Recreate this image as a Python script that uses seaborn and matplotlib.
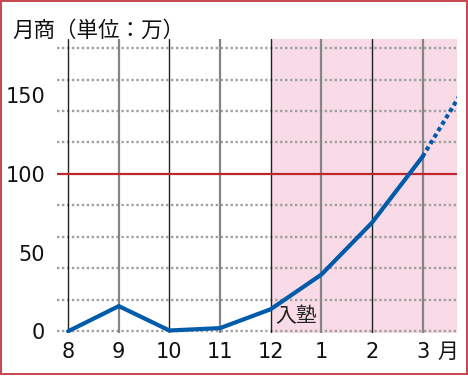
import matplotlib
matplotlib.use("Agg")
import matplotlib.pyplot as plt
import seaborn as sns
import pandas as pd
from matplotlib.patches import Rectangle

# ---- data ----
months = ["8", "9", "10", "11", "12", "1", "2", "3"]
sales = [0, 16, 0.5, 2, 14, 36, 69, 111]
forecast_pos = [7, 8]
forecast_vals = [111, 164]
y_ticks = [0, 50, 100, 150]
grid_levels = [0, 20, 40, 60, 80, 120, 140, 160, 180]
target = 100
join_index = 4  # 12月 入塾

sns.set_style("white")
plt.rcParams['font.family'] = ['DejaVu Sans', 'Noto Sans CJK JP']

fig = plt.figure(figsize=(4.68, 3.76), dpi=100)
ax = fig.add_axes([57/468, (376-333)/376, 400/468, (333-38.5)/376])

xmin, xmax = -0.22, 7.68
ax.set_xlim(xmin, xmax)
ax.set_ylim(-1.1, 186.1)

# pink region after joining
ax.axvspan(join_index, xmax, color='#f8dbe6', lw=0, zorder=0)

# dotted horizontal grid
for g in grid_levels:
    ax.axhline(g, color='#a0a0a0', lw=1.7, ls=(0, (1, 1.1)), zorder=1)

# vertical month lines (alternating dark / gray)
for i in range(len(months)):
    if i % 2 == 0:
        ax.axvline(i, color='#222222', lw=1.0, zorder=2)
    else:
        ax.axvline(i, color='#858585', lw=1.6, zorder=2)

# target line
ax.axhline(target, color='#c0262d', lw=1.6, zorder=3)

df = pd.DataFrame({"pos": list(range(len(months))), "val": sales})
sns.lineplot(data=df, x="pos", y="val", ax=ax, color='#005bab', lw=3.0,
             zorder=5, solid_capstyle='round')
fdf = pd.DataFrame({"pos": forecast_pos, "val": forecast_vals})
sns.lineplot(data=fdf, x="pos", y="val", ax=ax, color='#005bab', lw=3.0,
             ls=(0, (1, 0.8)), zorder=5)

ax.set_xticks(range(len(months)))
ax.set_xticklabels(months)
ax.set_yticks(y_ticks)
ax.set_yticklabels([str(v) for v in y_ticks])
ax.tick_params(axis='both', length=0, labelsize=15, colors='#111111')
ax.tick_params(axis='y', pad=8.5)
ax.tick_params(axis='x', pad=6.5)
ax.set_xlabel("")
ax.set_ylabel("")
for s in ax.spines.values():
    s.set_visible(False)
ax.patch.set_alpha(0)

ax.annotate("月", xy=(7.5, 0), xycoords=('data', 'axes fraction'),
            xytext=(0, -5.5), textcoords='offset points', ha='center', va='top',
            fontsize=15, family=['Noto Sans CJK JP'], color='#111111',
            annotation_clip=False)

ax.text(4.1, 9.7, "入塾", ha='left', va='center', fontsize=15,
        family=['Noto Sans CJK JP'], color='#222222', zorder=6)

fig.text(12/468, (376-31)/376, "月商（単位：万）", ha='left', va='center',
         fontsize=15.5, family=['Noto Sans CJK JP'], color='#111111')

fig.patches.append(Rectangle((0.6/468, 1.6/376), 466/468, 373.6/376,
                             transform=fig.transFigure, fill=False,
                             edgecolor='#c8444e', lw=1.4))

fig.savefig("out.png", dpi=100)
